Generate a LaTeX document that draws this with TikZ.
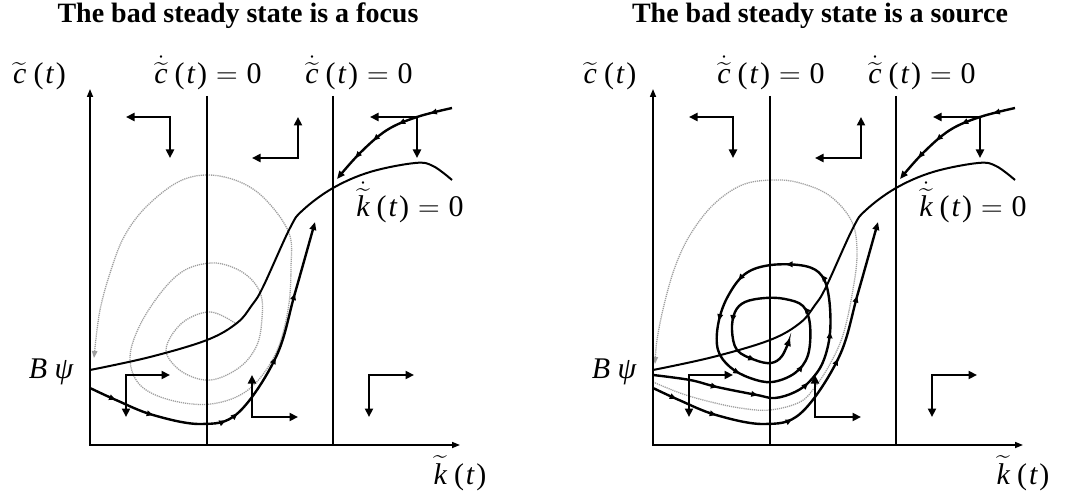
\RequirePackage{fix-cm}
\documentclass[tikz,border=0pt]{standalone}
\usepackage{amsmath}
\usepackage{fontspec}
\setmainfont{Liberation Serif}
\usetikzlibrary{arrows.meta,decorations.markings}
\tikzset{
  /pgf/decoration/am/.style={mark=at position #1 with {\arrow{Triangle[length=6.5pt,width=5.5pt]}}},
  arrowsat/.style={postaction={decorate,decoration={markings,#1}}},
  axisline/.style={line width=1.6pt,line join=miter,{Triangle[length=8pt,width=6pt]}-{Triangle[length=8pt,width=6pt]}},
  vline/.style={line width=1.7pt},
  nullk/.style={line width=2pt},
  traj/.style={line width=2.4pt,-{Triangle[length=8pt,width=6.5pt]}},
  dirarrow/.style={line width=2.6pt,line join=miter,{Triangle[length=8.5pt,width=8pt]}-{Triangle[length=8.5pt,width=8pt]}},
  grayline/.style={color=gray!75,line width=1.3pt,dash pattern=on 1.2pt off 0.9pt,-{Triangle[length=7pt,width=5.5pt]}},
  lbl/.style={font=\fontsize{30}{34}\selectfont,inner sep=0pt,anchor=base},
  ttl/.style={font=\fontsize{28}{32}\selectfont\bfseries,inner sep=0pt,anchor=base},
}
\newcommand\tilc{$\widetilde{\mbox{\itshape c}}$}
\newcommand\tilk{$\widetilde{\mbox{\itshape k}}$}
\newcommand\dtilc{$\dot{\widetilde{\mbox{\itshape c}}}$}
\newcommand\dtilk{$\dot{\widetilde{\mbox{\itshape k}}}$}
\newcommand\tpar{\hspace{7pt}(\hspace{2pt}{\itshape t}\hspace{2pt})}
\newcommand\eqz{\hspace{9pt}$=$\hspace{9pt}0}
\newcommand\phasepanel[4]{%
\begin{scope}[xshift=#2]
  \coordinate (#1o) at (90,445);
  \coordinate (#1ytop) at (90,89);
  \coordinate (#1xend) at (460,445);
  \coordinate (#1aT) at (207,96); \coordinate (#1aB) at (207,445);
  \coordinate (#1bT) at (333,96); \coordinate (#1bB) at (333,445);
  \draw[vline] (#1aT) -- (#1aB);
  \draw[vline] (#1bT) -- (#1bB);
  \draw[axisline] (#1ytop) -- (#1o) -- (#1xend);
  % direction indicators
  \draw[dirarrow] (126,117) -- (170,117) -- (170,158);
  \draw[dirarrow] (298,117) -- (298,158) -- (252,158);
  \draw[dirarrow] (370,117) -- (417,117) -- (417,158);
  \draw[dirarrow] (170,375) -- (126,375) -- (126,417);
  \draw[dirarrow] (252,375) -- (252,417) -- (298,417);
  \draw[dirarrow] (414,375) -- (369,375) -- (369,417);
  % k-dot = 0 locus
  \draw[nullk] plot[smooth,tension=0.6] coordinates {(90,370) (150,357) (207,340) (237,323) (252,305) (263,287) (290,228) (303,210) (333,188) (370,172) (415,163) (433,166) (452,180)};
  % stable arm
  \draw[traj,arrowsat={am=0.16,am=0.40,am=0.62,am=0.80}] plot[smooth,tension=0.6] coordinates {(452,108) (417,117) (387,130) (360,153) (337,179)};
  % lower trajectory
  \draw[traj,arrowsat={#4}] plot[smooth,tension=0.6] coordinates {(90,388) (116,400) (153,415) (201,424) (238,413) (276,357) (295,293) (315,222)};
  % labels
  \node[lbl] (#1ylab) at (#3,84) {\tilc\tpar};
  \node[lbl] (#1cza) at (208,84) {\dtilc\tpar\eqz};
  \node[lbl] (#1czb) at (359,84) {\dtilc\tpar\eqz};
  \node[lbl] (#1kz) at (410,217) {\dtilk\tpar\eqz};
  \node[lbl] (#1xlab) at (460,484) {\tilk\tpar};
  \node[lbl] (#1bpsi) at (51,378) {\itshape B ψ};
\end{scope}}
\begin{document}
\begin{tikzpicture}[x=1pt,y=-1pt]
\useasboundingbox (0,0) rectangle (1070,494);
\node[ttl] (ttlL) at (238,23) {The bad steady state is a focus};
\node[ttl] (ttlR) at (820,23) {The bad steady state is a source};
% left gray spiral
\draw[grayline] plot[smooth,tension=0.6] coordinates {(235,323) (211,312) (186,320) (170,338) (167,355) (184,373) (211,380) (240,367) (257,345) (262,318) (261,295) (250,278) (232,267) (211,263) (185,270) (163,290) (140,325) (130,358) (140,385) (170,400) (211,404) (248,390) (275,355) (288,310) (291,267) (289,233) (266,200) (240,182) (208,175) (178,182) (146,207) (125,235) (112,267) (100,310) (94,358)};
\phasepanel{L}{0pt}{39.5}{am=0.077,am=0.188,am=0.39,am=0.428,am=0.614,am=0.797}
% right gray arc
\draw[grayline] plot[smooth,tension=0.6] coordinates {(653,382) (680,393) (707,401) (740,408) (770,410) (800,402) (815,387) (830,364) (843,335) (852,295) (857,255) (852,222) (830,196) (800,183) (773,180) (742,185) (713,205) (690,235) (675,267) (664,305) (657,340) (655,364)};
\phasepanel{R}{563pt}{47}{am=0.07,am=0.188,am=0.40,am=0.61,am=0.79}
% right spiral trajectory
\draw[traj,arrowsat={am=0.083,am=0.135,am=0.204,am=0.276,am=0.350,am=0.398,am=0.464,am=0.521,am=0.600,am=0.688,am=0.765,am=0.874,am=0.937}] plot[smooth,tension=0.6] coordinates {(653,375) (690,380) (717,387) (757,395) (775,398) (795,392) (810,381) (823,362) (830,333) (829,298) (822,276) (805,266) (771,265) (745,274) (727,298) (718,325) (718,350) (730,367) (750,378) (772,382) (795,373) (808,355) (810,325) (803,306) (785,299) (765,298) (745,302) (735,312) (732,330) (737,350) (755,360) (771,363) (782,356) (790,338)};
\end{tikzpicture}
\end{document}
